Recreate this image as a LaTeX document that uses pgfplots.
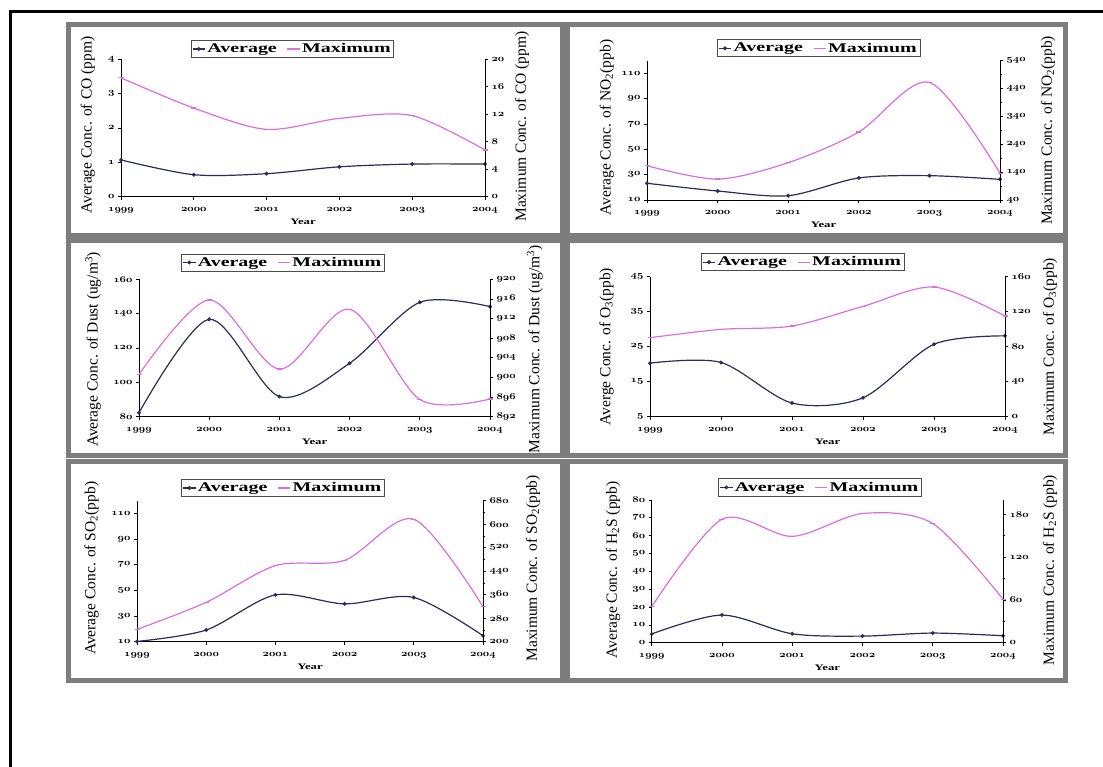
\documentclass[border=0pt]{standalone}
\usepackage{pgfplots}
\pgfplotsset{compat=1.18}
\usepackage{fontspec}
\setmainfont{Liberation Serif}
\usepackage{graphicx}

\definecolor{avgc}{RGB}{45,45,90}
\definecolor{maxc}{RGB}{222,110,222}
\definecolor{framec}{RGB}{125,125,125}
\newcommand\osn[1]{{\usefont{OML}{cmm}{b}{it}#1}}
\newcommand\tk[1]{\scalebox{1.2}[1]{\osn{#1}}}
\newcommand\hs[1]{\scalebox{1.5}[1]{#1}}

\pgfplotsset{
  tklab/.style={
    xticklabel={\tk{\pgfmathprintnumber[assume math mode=true,fixed,precision=0,1000 sep={}]{\tick}}},
    yticklabel={\tk{\pgfmathprintnumber[assume math mode=true,fixed,precision=0,1000 sep={}]{\tick}}}},
  base/.style={scale only axis, xmin=1999, xmax=2004,
    xtick={1999,2000,2001,2002,2003,2004}, scaled ticks=false,
    tick align=outside, major tick length=3pt, minor tick length=2pt,
    every tick/.style={black, line width=0.7pt},
    axis line style={black, line width=0.9pt},
    clip=false, tklab,
    tick label style={font=\fontsize{9.5}{10}\selectfont},
    xticklabel style={yshift=-4pt},
    every axis y label/.style={rotate=90},
    ylabel style={font=\fontsize{15.5}{17}\selectfont, anchor=center}},
  lax/.style={base, axis x line*=bottom, axis y line*=left,
    xlabel={\hs{\bfseries Year}},
    xlabel style={font=\fontsize{8.5}{9}\selectfont, at={(axis description cs:0.5,0)}, anchor=center, yshift=-25pt}},
  rax/.style={base, axis x line=none, axis y line*=right,
    legend columns=2,
    legend style={draw=black!70, line width=0.9pt, fill=white, inner sep=1.2pt,
      font=\fontsize{13.3}{14}\selectfont\bfseries, anchor=center,
      /tikz/every even column/.append style={column sep=8pt}},
    legend cell align=left,
    legend image code/.code={\draw[mark repeat=2,mark phase=2,##1] plot coordinates {(0pt,0pt)(6pt,0pt)(12pt,0pt)};}},
  avg/.style={avgc, line width=1.2pt, smooth, mark=*, mark size=1.3pt, mark options={solid, fill=avgc}},
  mx/.style={maxc, line width=1.2pt, smooth, mark=-, mark size=2.5pt, mark options={solid}},
}

\begin{document}
\begin{tikzpicture}[x=1pt,y=1pt]
\useasboundingbox (0,0) rectangle (1103,767);
\clip (0,0) rectangle (1103,767);
\fill[white] (0,0) rectangle (1103,767);
% outer black border
\draw[black, line width=3pt] (10,-10) -- (10,755) -- (1120,755);
% grey panel frames
\foreach \xa/\xb in {68/562, 567/1065}{
  \foreach \ya/\yb in {742/531, 526/311, 305/86}{
    \draw[framec, line width=5pt] (\xa,\ya) rectangle (\xb,\yb);
  }
}

% ---------- Panel 1: CO ----------
\begin{axis}[lax, at={(121pt,570.3pt)}, anchor=south west, width=364pt, height=137.4pt,
  ymin=0, ymax=4, ytick={0,1,2,3,4},
  ylabel={Average Conc. of CO (ppm)},
  ylabel style={at={(axis description cs:-0.091,0.52)}}]
\addplot[avg] coordinates {(1999,1.07)(2000,0.64)(2001,0.67)(2002,0.87)(2003,0.95)(2004,0.95)};
\end{axis}
\begin{axis}[rax, at={(121pt,570.3pt)}, anchor=south west, width=364pt, height=137.4pt,
  ymin=0, ymax=20, ytick={0,4,8,12,16,20},
  ylabel={Maximum Conc. of CO (ppm)},
  ylabel style={at={(axis description cs:1.102,0.51)}},
  legend style={at={(axis description cs:0.471,1.075)}}]
\addlegendimage{avg}\addlegendentry{\hs{Average}}
\addplot[mx] coordinates {(1999,17.3)(2000,12.9)(2001,9.8)(2002,11.4)(2003,11.8)(2004,6.8)};
\addlegendentry{\hs{Maximum}}
\end{axis}

% ---------- Panel 2: NO2 ----------
\begin{axis}[lax, at={(647pt,567pt)}, anchor=south west, width=353pt, height=139.3pt,
  ymin=10, ymax=120, ytick={10,30,50,70,90,110},
  ylabel={Average Conc. of NO\textsubscript{2}(ppb)},
  ylabel style={at={(axis description cs:-0.114,0.52)}}]
\addplot[avg] coordinates {(1999,23.2)(2000,17.1)(2001,13.4)(2002,27.4)(2003,29.2)(2004,26.3)};
\end{axis}
\begin{axis}[rax, at={(647pt,567pt)}, anchor=south west, width=353pt, height=139.3pt,
  ymin=40, ymax=540, ytick={40,140,240,340,440,540}, minor ytick={90,190,290,390,490},
  ylabel={Maximum Conc. of NO\textsubscript{2}(ppb)},
  ylabel style={at={(axis description cs:1.136,0.5)}},
  legend style={at={(axis description cs:0.486,1.089)}}]
\addlegendimage{avg}\addlegendentry{\hs{Average}}
\addplot[mx] coordinates {(1999,163)(2000,115)(2001,174)(2002,284)(2003,462)(2004,136)};
\addlegendentry{\hs{Maximum}}
\end{axis}

% ---------- Panel 3: Dust ----------
\begin{axis}[lax, at={(139pt,350.3pt)}, anchor=south west, width=351pt, height=137.4pt,
  ymin=80, ymax=160, ytick={80,100,120,140,160},
  ylabel={Average Conc. of Dust (ug/m\textsuperscript{3})},
  ylabel style={at={(axis description cs:-0.131,0.49)}}]
\addplot[avg] coordinates {(1999,82.3)(2000,136.7)(2001,91.7)(2002,111.1)(2003,146.6)(2004,144.1)};
\end{axis}
\begin{axis}[rax, at={(139pt,350.3pt)}, anchor=south west, width=351pt, height=137.4pt,
  ymin=892, ymax=920, ytick={892,896,900,904,908,912,916,920},
  ylabel={Maximum Conc. of Dust (ug/m\textsuperscript{3})},
  ylabel style={at={(axis description cs:1.128,0.49)}},
  legend style={at={(axis description cs:0.410,1.122)}}]
\addlegendimage{avg}\addlegendentry{\hs{Average}}
\addplot[mx] coordinates {(1999,900.6)(2000,915.8)(2001,901.7)(2002,913.9)(2003,895.5)(2004,895.6)};
\addlegendentry{\hs{Maximum}}
\end{axis}

% ---------- Panel 4: O3 ----------
\begin{axis}[lax, at={(650pt,350.3pt)}, anchor=south west, width=355pt, height=140pt,
  ymin=5, ymax=45, ytick={5,15,25,35,45},
  ylabel={Averge Conc. of O\textsubscript{3}(ppb)},
  ylabel style={at={(axis description cs:-0.122,0.5)}}]
\addplot[avg] coordinates {(1999,20.3)(2000,20.5)(2001,8.9)(2002,10.4)(2003,25.7)(2004,28.1)};
\end{axis}
\begin{axis}[rax, at={(650pt,350.3pt)}, anchor=south west, width=355pt, height=140pt,
  ymin=0, ymax=160, ytick={0,40,80,120,160},
  ylabel={Maximum Conc. of O\textsubscript{3}(ppb)},
  ylabel style={at={(axis description cs:1.127,0.5)}},
  legend style={at={(axis description cs:0.430,1.104)}}]
\addlegendimage{avg}\addlegendentry{\hs{Average}}
\addplot[mx] coordinates {(1999,90.3)(2000,99.8)(2001,103.6)(2002,126.1)(2003,148.2)(2004,115)};
\addlegendentry{\hs{Maximum}}
\end{axis}

% ---------- Panel 5: SO2 ----------
\begin{axis}[lax, at={(137pt,125.3pt)}, anchor=south west, width=346pt, height=141pt,
  ymin=10, ymax=120, ytick={10,30,50,70,90,110},
  ylabel={Average Conc. of SO\textsubscript{2}(ppb)},
  ylabel style={at={(axis description cs:-0.131,0.52)}}]
\addplot[avg] coordinates {(1999,10.2)(2000,19.1)(2001,46.5)(2002,39.5)(2003,44.5)(2004,14.7)};
\end{axis}
\begin{axis}[rax, at={(137pt,125.3pt)}, anchor=south west, width=346pt, height=141pt,
  ymin=200, ymax=680, ytick={200,280,360,440,520,600,680}, minor ytick={240,320,400,480,560,640},
  ylabel={Maximum Conc. of SO\textsubscript{2}(ppb)},
  ylabel style={at={(axis description cs:1.145,0.52)}},
  legend style={at={(axis description cs:0.422,1.090)}}]
\addlegendimage{avg}\addlegendentry{\hs{Average}}
\addplot[mx] coordinates {(1999,242)(2000,334)(2001,459)(2002,477)(2003,617)(2004,319)};
\addlegendentry{\hs{Maximum}}
\end{axis}

% ---------- Panel 6: H2S ----------
\begin{axis}[lax, at={(651.7pt,124.3pt)}, anchor=south west, width=351.3pt, height=142.7pt,
  ymin=0, ymax=80, ytick={0,10,20,30,40,50,60,70,80},
  ylabel={Average Conc. of H\textsubscript{2}S (ppb)},
  ylabel style={at={(axis description cs:-0.110,0.51)}}]
\addplot[avg] coordinates {(1999,4.9)(2000,15.5)(2001,5.0)(2002,3.7)(2003,5.4)(2004,3.9)};
\end{axis}
\begin{axis}[rax, at={(651.7pt,124.3pt)}, anchor=south west, width=351.3pt, height=142.7pt,
  ymin=0, ymax=200, ytick={0,60,120,180}, minor ytick={30,90,150},
  ylabel={Maximum Conc. of H\textsubscript{2}S (ppb)},
  ylabel style={at={(axis description cs:1.134,0.51)}},
  legend style={at={(axis description cs:0.479,1.088)}}]
\addlegendimage{avg}\addlegendentry{\hs{Average}}
\addplot[mx] coordinates {(1999,50.5)(2000,173)(2001,149)(2002,181)(2003,167)(2004,61)};
\addlegendentry{\hs{Maximum}}
\end{axis}
\end{tikzpicture}
\end{document}
